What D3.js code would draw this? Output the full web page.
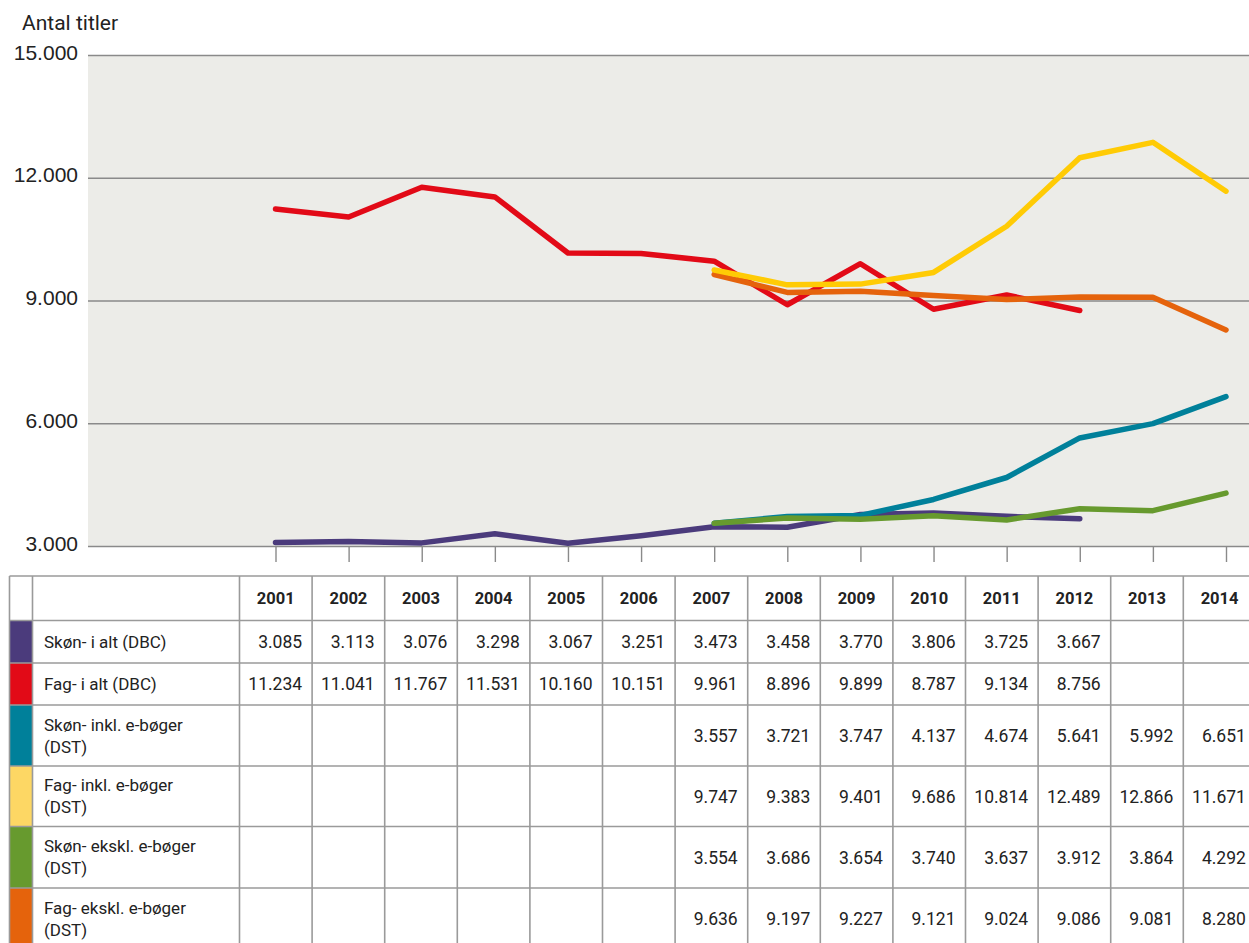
<!DOCTYPE html>
<html>
<head>
<meta charset="utf-8">
<script src="https://cdn.jsdelivr.net/npm/d3@7"></script>
<style>
  body { margin: 0; background: #fff; }
  svg { display: block; font-family: Roboto, "DejaVu Sans", sans-serif; }
</style>
</head>
<body>
<svg id="chart" width="1249" height="943"></svg>
<script>
// years on the x axis / table header
var years = [2001, 2002, 2003, 2004, 2005, 2006, 2007, 2008, 2009, 2010, 2011, 2012, 2013, 2014];

// series values (null = no data)
var skonIaltDBC   = [3085, 3113, 3076, 3298, 3067, 3251, 3473, 3458, 3770, 3806, 3725, 3667, null, null];
var fagIaltDBC    = [11234, 11041, 11767, 11531, 10160, 10151, 9961, 8896, 9899, 8787, 9134, 8756, null, null];
var skonInklDST   = [null, null, null, null, null, null, 3557, 3721, 3747, 4137, 4674, 5641, 5992, 6651];
var fagInklDST    = [null, null, null, null, null, null, 9747, 9383, 9401, 9686, 10814, 12489, 12866, 11671];
var skonEksklDST  = [null, null, null, null, null, null, 3554, 3686, 3654, 3740, 3637, 3912, 3864, 4292];
var fagEksklDST   = [null, null, null, null, null, null, 9636, 9197, 9227, 9121, 9024, 9086, 9081, 8280];

var seriesLabels = [
  ["Skøn- i alt (DBC)"],
  ["Fag- i alt (DBC)"],
  ["Skøn- inkl. e-bøger", "(DST)"],
  ["Fag- inkl. e-bøger", "(DST)"],
  ["Skøn- ekskl. e-bøger", "(DST)"],
  ["Fag- ekskl. e-bøger", "(DST)"]
];
var yTicks = [3000, 6000, 9000, 12000, 15000];
var yTitle = "Antal titler";

var seriesValues = [skonIaltDBC, fagIaltDBC, skonInklDST, fagInklDST, skonEksklDST, fagEksklDST];
var lineColors   = ["#4b3b7c", "#e20a17", "#00809a", "#ffcb05", "#679a2e", "#e5630c"];
var swatchColors = ["#4b3b7c", "#e20a17", "#00809a", "#fdd764", "#679a2e", "#e5630c"];
var drawOrder = [0, 2, 4, 1, 5, 3];

var fmt = function(v) {
  return v == null ? "" : d3.format(",")(v).replace(/,/g, ".");
};

var svg = d3.select("#chart");

// ---------- chart ----------
var plot = { left: 88, right: 1249, top: 55, bottom: 546 };

var x = d3.scalePoint().domain(years).range([275.5, 1226]);
var y = d3.scaleLinear().domain([3000, 15000]).range([plot.bottom, plot.top]);

svg.append("rect")
  .attr("x", plot.left).attr("y", plot.top)
  .attr("width", plot.right - plot.left).attr("height", plot.bottom - plot.top)
  .attr("fill", "#ecece8");

var yAxis = d3.axisLeft(y).tickValues(yTicks)
  .tickSize(-(plot.right - plot.left)).tickPadding(10).tickFormat(fmt);

var gy = svg.append("g").attr("transform", "translate(" + plot.left + ",0)").call(yAxis);
gy.select(".domain").remove();
gy.selectAll(".tick line").attr("stroke", "#8a8a8a").attr("stroke-width", 1.6);
gy.selectAll(".tick text")
  .attr("fill", "#222").attr("font-size", 21).attr("x", -10).attr("dy", "0.2em");

svg.append("text")
  .attr("x", 22).attr("y", 30)
  .attr("font-size", 21).attr("fill", "#222")
  .text(yTitle);

var xAxis = d3.axisBottom(x).tickSize(16).tickFormat("");
var gx = svg.append("g").attr("transform", "translate(0," + plot.bottom + ")").call(xAxis);
gx.select(".domain").remove();
gx.selectAll(".tick line").attr("stroke", "#8a8a8a").attr("stroke-width", 1.4);

var line = d3.line()
  .defined(function(d) { return d.v != null; })
  .x(function(d) { return x(d.year); })
  .y(function(d) { return y(d.v); });

drawOrder.forEach(function(i) {
  var pts = years.map(function(yr, j) { return { year: yr, v: seriesValues[i][j] }; });
  svg.append("path")
    .datum(pts)
    .attr("class", "series-" + i)
    .attr("fill", "none")
    .attr("stroke", lineColors[i])
    .attr("stroke-width", 5.5)
    .attr("stroke-linejoin", "round")
    .attr("stroke-linecap", "round")
    .attr("d", line);
});

// ---------- table ----------
var tableLeft = 9.5, swatchRight = 32.5, labelRight = 239.5, colW = 72.6;
var rowEdges = [576, 620.5, 663, 705, 766, 826.5, 888, 950];

var colX = d3.scaleBand().domain(years)
  .range([labelRight, labelRight + colW * years.length]).paddingInner(0).paddingOuter(0);

var tbl = svg.append("g");

// swatches
seriesValues.forEach(function(s, i) {
  tbl.append("rect")
    .attr("x", tableLeft).attr("y", rowEdges[i + 1])
    .attr("width", swatchRight - tableLeft).attr("height", rowEdges[i + 2] - rowEdges[i + 1])
    .attr("fill", swatchColors[i]);
});

var gridColor = "#9a9a9a";
// horizontal rules
rowEdges.forEach(function(ry) {
  tbl.append("line")
    .attr("x1", tableLeft).attr("x2", 1249)
    .attr("y1", ry).attr("y2", ry)
    .attr("stroke", gridColor).attr("stroke-width", 1.6);
});
// vertical rules
var vEdges = [tableLeft, swatchRight, labelRight].concat(years.map(function(yr) { return colX(yr) + colX.bandwidth(); }));
vEdges.forEach(function(vx) {
  tbl.append("line")
    .attr("x1", vx).attr("x2", vx)
    .attr("y1", rowEdges[0]).attr("y2", 943)
    .attr("stroke", gridColor).attr("stroke-width", 1.6);
});

// header
years.forEach(function(yr) {
  tbl.append("text")
    .attr("x", colX(yr) + colX.bandwidth() / 2)
    .attr("y", (rowEdges[0] + rowEdges[1]) / 2)
    .attr("dy", "0.36em")
    .attr("text-anchor", "middle")
    .attr("font-size", 16.5).attr("font-weight", "bold").attr("fill", "#222")
    .text(yr);
});

// rows
seriesValues.forEach(function(s, i) {
  var top = rowEdges[i + 1], bot = rowEdges[i + 2];
  var mid = (top + bot) / 2;
  var lbl = seriesLabels[i];
  lbl.forEach(function(t, k) {
    tbl.append("text")
      .attr("x", 44)
      .attr("y", mid + (k - (lbl.length - 1) / 2) * 22)
      .attr("dy", "0.36em")
      .attr("font-size", 17).attr("fill", "#222")
      .text(t);
  });
  s.forEach(function(v, j) {
    if (v == null) return;
    tbl.append("text")
      .attr("x", colX(years[j]) + colX.bandwidth() - 10)
      .attr("y", mid)
      .attr("dy", "0.36em")
      .attr("text-anchor", "end")
      .attr("font-size", 17.5).attr("fill", "#222")
      .text(fmt(v));
  });
});
</script>
</body>
</html>
